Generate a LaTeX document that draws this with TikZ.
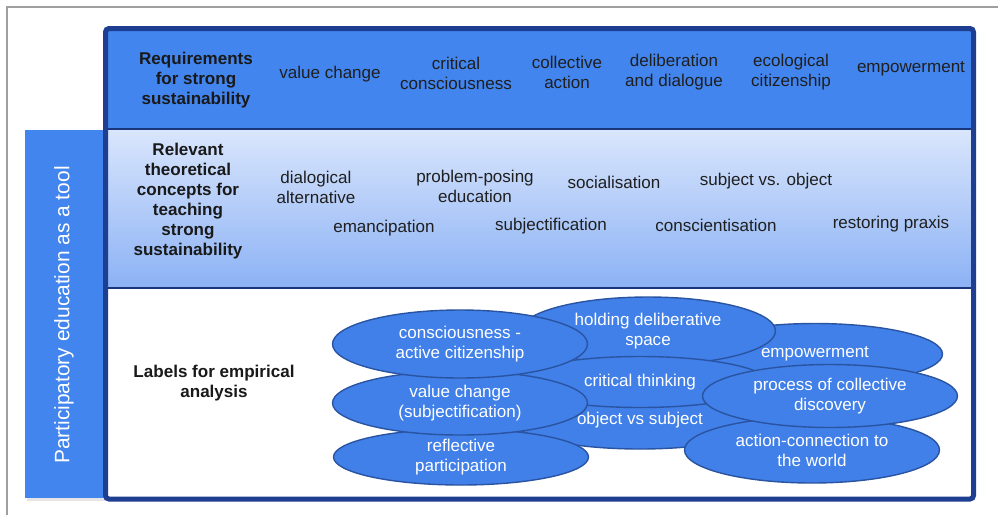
\documentclass[tikz,border=0pt]{standalone}
\usepackage{fontspec}
\setmainfont{Liberation Sans}
\usepackage{xcolor}
\usepackage{tikz}
\usetikzlibrary{shapes.geometric}

\definecolor{frameblue}{RGB}{30,62,146}
\definecolor{bandblue}{RGB}{66,133,238}
\definecolor{paleblue}{RGB}{218,230,252}
\definecolor{midblue}{RGB}{140,178,245}
\definecolor{blobblue}{RGB}{64,128,232}
\definecolor{blobline}{RGB}{42,84,162}

\begin{document}
\begin{tikzpicture}[
  x=0.02cm, y=-0.02cm,
  font=\fontsize{9.7}{11.4}\selectfont,
  heading/.style={font=\fontsize{9.7}{11.4}\selectfont\bfseries, align=center, text=black!90},
  term/.style={align=center, text=black!88},
  blob/.style={ellipse, draw=blobline, line width=0.8pt, fill=blobblue, text=white, align=center, inner sep=0pt, minimum width=5.1cm},
  divider/.style={draw=frameblue!85!black, line width=0.04cm}
]
  \useasboundingbox (0,0) rectangle (998,515);
  \draw[gray!75, line width=0.6pt] (7,515) |- (998,7);

  % side bar
  \fill[black!10] (27,132) rectangle (106,501);
  \fill[bandblue] (25,130) rectangle (104,498);
  \node[rotate=90, text=white, font=\fontsize{11.9}{14}\selectfont] (tool) at (64,315) {Participatory education as a tool};

  % bands
  \fill[bandblue] (106,28) rectangle (974,128);
  \shade[top color=paleblue, bottom color=midblue] (106,128) rectangle (974,287);
  \fill[white] (106,287) rectangle (974,498);
  \draw[divider] (106,128.5) -- (974,128.5);
  \draw[divider] (106,287.5) -- (974,287.5);
  \draw[frameblue, line width=0.1cm, rounded corners=2pt] (105.5,28.5) rectangle (973.5,499);

  \node[heading] (req) at (196,80) {Requirements\\for strong\\sustainability};
  \node[heading] (con) at (188,201) {Relevant\\theoretical\\concepts for\\teaching\\strong\\sustainability};
  \node[heading] (lab) at (214,383) {Labels for empirical\\analysis};

  \foreach \n/\x/\y/\t in {vc/330/74/value change, cc/456/73/critical\\consciousness,
      ca/567/72/collective\\action, dd/674/72/deliberation\\and dialogue,
      ec/791/72/ecological\\citizenship, em/911/69/empowerment}
    \node[term] (req-\n) at (\x,\y) {\t};

  \foreach \n/\x/\y/\t in {da/316/187/dialogical\\alternative, pp/475/186/problem-posing\\education,
      so/614/182/socialisation, sv/766/181/subject vs. object,
      ema/384/228/emancipation, sub/551/226/subjectification,
      cs/716/225/conscientisation, rp/891/224/restoring praxis}
    \node[term] (con-\n) at (\x,\y) {\t};

  % labels, back to front
  \node[blob, minimum height=1.16cm] (objsub) at (640,420) {object vs subject};
  \node[blob, minimum height=1.32cm] (action) at (812,450) {action-connection to\\the world};
  \node[blob, minimum height=1.22cm] (empower) at (815,354) {empowerment};
  \node[blob, minimum height=1.36cm] (holding) at (648,331) {holding deliberative\\space};
  \node[blob, minimum height=1.02cm] (critical) at (640,382) {critical thinking};
  \node[blob, minimum height=1.26cm] (process) at (830,396) {process of collective\\discovery};
  \node[blob, minimum height=1.12cm] (reflect) at (461,457) {reflective\\participation};
  \node[blob, minimum height=1.28cm] (value) at (460,403) {value change\\(subjectification)};
  \node[blob, minimum height=1.36cm] (conscious) at (460,344) {consciousness -\\active citizenship};
\end{tikzpicture}
\end{document}
